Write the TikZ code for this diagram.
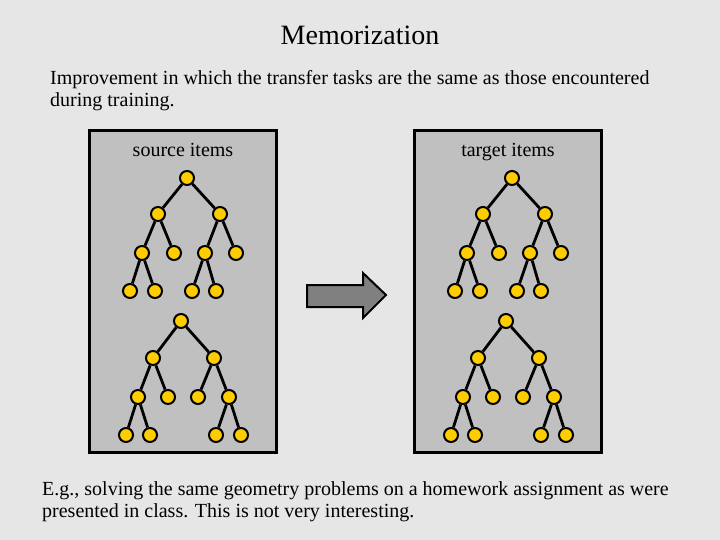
\documentclass[tikz,border=0pt]{standalone}
\usepackage{fontspec}
\setmainfont{Liberation Serif}
\definecolor{bgc}{RGB}{230,230,230}
\definecolor{boxc}{RGB}{192,192,192}
\definecolor{goldc}{RGB}{255,204,0}
\definecolor{arrc}{RGB}{128,128,128}
\tikzset{
  tn/.style={circle,draw=black,line width=2pt,fill=goldc,minimum size=14pt,inner sep=0pt},
  edge/.style={draw=black,line width=2.8pt},
  panel/.style={draw=black,line width=3pt,fill=boxc},
  body/.style={font=\fontsize{20}{22}\selectfont,inner sep=0pt},
}
\newcommand\mytrees{%
  % upper tree
  \node[tn] (a) at (187,178) {};
  \node[tn] (b) at (158,214) {};
  \node[tn] (c) at (220,214) {};
  \node[tn] (d) at (142,253) {};
  \node[tn] (e) at (174,253) {};
  \node[tn] (f) at (205,253) {};
  \node[tn] (g) at (236,253) {};
  \node[tn] (h) at (130,291) {};
  \node[tn] (i) at (155,291) {};
  \node[tn] (j) at (192,291) {};
  \node[tn] (k) at (216,291) {};
  \draw[edge] (a)--(b) (a)--(c) (b)--(d) (b)--(e) (c)--(f) (c)--(g)
              (d)--(h) (d)--(i) (f)--(j) (f)--(k);
  % lower tree
  \node[tn] (A) at (181,321) {};
  \node[tn] (B) at (153,358) {};
  \node[tn] (C) at (214,358) {};
  \node[tn] (D) at (138,397) {};
  \node[tn] (E) at (168,397) {};
  \node[tn] (F) at (198,397) {};
  \node[tn] (G) at (229,397) {};
  \node[tn] (H) at (126,435) {};
  \node[tn] (I) at (150,435) {};
  \node[tn] (J) at (216,435) {};
  \node[tn] (K) at (241,435) {};
  \draw[edge] (A)--(B) (A)--(C) (B)--(D) (B)--(E) (C)--(F) (C)--(G)
              (D)--(H) (D)--(I) (G)--(J) (G)--(K);
}
\begin{document}
\begin{tikzpicture}[x=1pt,y=-1pt]
  \fill[bgc] (0,0) rectangle (720,540);
  \useasboundingbox (0,0) rectangle (720,540);
  \node[font=\fontsize{28}{32}\selectfont,inner sep=0pt,anchor=base] (title) at (360,45) {Memorization};
  \node[body,anchor=base west] (l1) at (50,85) {Improvement in which the transfer tasks are the same as those encountered};
  \node[body,anchor=base west] (l2) at (50,107) {during training.};
  \node[panel] (lbox) at (182.5,291.5) [minimum width=187pt,minimum height=321pt] {};
  \node[panel] (rbox) at (507.5,291.5) [minimum width=187pt,minimum height=321pt] {};
  \node[body,anchor=base] (src) at (183,157) {source items};
  \node[body,anchor=base] (tgt) at (508,157) {target items};
  \begin{scope}[name prefix=L-]
    \mytrees
  \end{scope}
  \begin{scope}[xshift=325pt,name prefix=R-]
    \mytrees
  \end{scope}
  \draw[black,line width=2pt,fill=arrc,line join=miter]
    (307,285) -- (363,285) -- (363,273) -- (386,295) -- (363,318) -- (363,307) -- (307,307) -- cycle;
  \node[body,anchor=base west] (b1) at (42,495) {E.g., solving the same geometry problems on a homework assignment as were};
  \node[body,anchor=base west] (b2) at (42,517) {presented in class. This is not very interesting.};
\end{tikzpicture}
\end{document}
